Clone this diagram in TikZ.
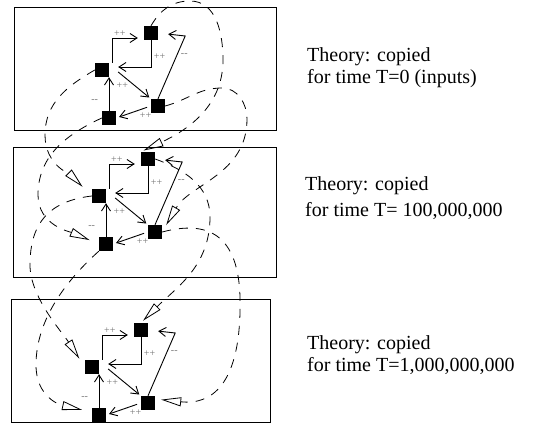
\documentclass[tikz,border=0pt]{standalone}
\usepackage{fontspec}
\setmainfont{Liberation Serif}
\usetikzlibrary{arrows.meta,positioning}

\begin{document}
\begin{tikzpicture}[x=1pt,y=1pt,>={Straight Barb[length=7pt,width=9pt]},on grid]
  \tikzstyle{cell}=[fill=black,draw=none,minimum size=14pt,inner sep=0pt]
  \tikzstyle{link}=[->,line width=0.9pt]
  \tikzstyle{sign}=[text=black!55,font=\fontsize{10}{10}\selectfont,inner sep=0.5pt]
  \tikzstyle{copied}=[-{Triangle[open,length=20pt,width=9pt]},dash pattern=on 9pt off 8pt,line width=0.8pt]
  \tikzstyle{panel}=[line width=1pt]
  \tikzstyle{note}=[font=\fontsize{20}{22}\selectfont,align=left,anchor=north west,inner sep=0pt]
\useasboundingbox (0,0) rectangle (543,437);

% the three copies of the theory
\draw[panel] (14,306) rectangle (276,429);
\draw[panel] (13,160) rectangle (276,289);
\draw[panel] (11,15) rectangle (270,138);

\node[cell] (t1) at (151,404) {};
\node[cell] (l1) [below left=37pt and 49pt of t1] {};
\node[cell] (r1) [below right=73pt and 7pt of t1] {};
\node[cell] (b1) [below left=85pt and 42pt of t1] {};

\node[cell] (t2) at (148,278) {};
\node[cell] (l2) [below left=37pt and 49pt of t2] {};
\node[cell] (r2) [below right=73pt and 7pt of t2] {};
\node[cell] (b2) [below left=85pt and 42pt of t2] {};

\node[cell] (t3) at (141,107) {};
\node[cell] (l3) [below left=37pt and 49pt of t3] {};
\node[cell] (r3) [below right=73pt and 7pt of t3] {};
\node[cell] (b3) [below left=85pt and 42pt of t3] {};

\node[note] (txt1) at (307,390) {Theory: copied\\for time T=0 (inputs)};
\node[note,font=\fontsize{20}{26}\selectfont] (txt2) at (305,261) {Theory: copied\\for time T= 100,000,000};
\node[note] (txt3) at (307,102) {Theory: copied\\for time T=1,000,000,000};

% copies from one time to the next
\draw[copied,shorten >=3pt] (t1.north) to[out=60,in=180] (190,436) to[out=0,in=90] (223,377) to[out=-90,in=25] (t2.north west);
\draw[copied,shorten >=8pt] (r1.east) to[out=15,in=180] (222,349) to[out=0,in=90] (247,318) to[out=-90,in=60] (r2.east);
\draw[copied,shorten >=13pt] (l1.west) to[out=210,in=90] (45,302) to[out=-90,in=135] (l2.west);
\draw[copied,shorten >=10pt] (b1.west) to[out=205,in=90] (38,242) to[out=-90,in=157] (b2.west);
\draw[copied,shorten >=3pt] (t2.east) to[out=-20,in=90] (210,220) to[out=-90,in=45] (t3.north);
\draw[copied,shorten >=6pt] (r2.east) .. controls (200,215) and (238,210) .. (240,140) .. controls (242,50) and (210,32) .. ([yshift=4pt]r3.east);
\draw[copied,shorten >=10pt] (l2.west) .. controls (50,236) and (30,215) .. (30,172) .. controls (30,140) and (62,105) .. (l3.west);
\draw[copied,shorten >=10pt] (b2.south west) .. controls (70,160) and (36,120) .. (36,72) .. controls (36,40) and (60,32) .. ([yshift=3pt]b3.west);

% the theory at T=0
\draw[link,shorten >=6pt] ([xshift=3pt]l1.north east) |- node[sign,pos=0.62,above=1pt] {++} ([yshift=-5pt]t1.west);
\draw[link,shorten >=9pt] (t1.south) |- node[sign,pos=0.3,right=2pt] {++} ([yshift=3pt]l1.east);
\draw[link,shorten >=2pt] ([shift={(9pt,-2pt)}]l1.east) -- node[sign,pos=0.35,below left=1pt] {++} (r1.north west);
\draw[link,shorten >=10pt] (r1.north) -- node[sign,pos=0.7,right=3pt] {-{}-} ([shift={(27pt,-3pt)}]t1.east) -- (t1.east);
\draw[link,shorten <=4pt,shorten >=3pt] (r1.west) -- node[sign,pos=0.15,below=4pt] {++} (b1.east);
\draw[link] (b1.north) -- node[sign,pos=0.3,left=10pt] {-{}-} (b1.north |- l1.south);

% the theory at T=100,000,000
\draw[link,shorten >=6pt] ([xshift=3pt]l2.north east) |- node[sign,pos=0.62,above=1pt] {++} ([yshift=-5pt]t2.west);
\draw[link,shorten >=9pt] (t2.south) |- node[sign,pos=0.3,right=2pt] {++} ([yshift=3pt]l2.east);
\draw[link,shorten >=2pt] ([shift={(9pt,-2pt)}]l2.east) -- node[sign,pos=0.35,below left=1pt] {++} (r2.north west);
\draw[link,shorten >=10pt] (r2.north) -- node[sign,pos=0.7,right=3pt] {-{}-} ([shift={(27pt,-3pt)}]t2.east) -- (t2.east);
\draw[link,shorten <=4pt,shorten >=3pt] (r2.west) -- node[sign,pos=0.15,below=4pt] {++} (b2.east);
\draw[link] (b2.north) -- node[sign,pos=0.3,left=10pt] {-{}-} (b2.north |- l2.south);

% the theory at T=1,000,000,000
\draw[link,shorten >=6pt] ([xshift=3pt]l3.north east) |- node[sign,pos=0.62,above=1pt] {++} ([yshift=-5pt]t3.west);
\draw[link,shorten >=9pt] (t3.south) |- node[sign,pos=0.3,right=2pt] {++} ([yshift=3pt]l3.east);
\draw[link,shorten >=2pt] ([shift={(9pt,-2pt)}]l3.east) -- node[sign,pos=0.35,below left=1pt] {++} (r3.north west);
\draw[link,shorten >=10pt] (r3.north) -- node[sign,pos=0.7,right=3pt] {-{}-} ([shift={(27pt,-3pt)}]t3.east) -- (t3.east);
\draw[link,shorten <=4pt,shorten >=3pt] (r3.west) -- node[sign,pos=0.15,below=4pt] {++} (b3.east);
\draw[link] (b3.north) -- node[sign,pos=0.3,left=10pt] {-{}-} (b3.north |- l3.south);
\end{tikzpicture}
\end{document}
